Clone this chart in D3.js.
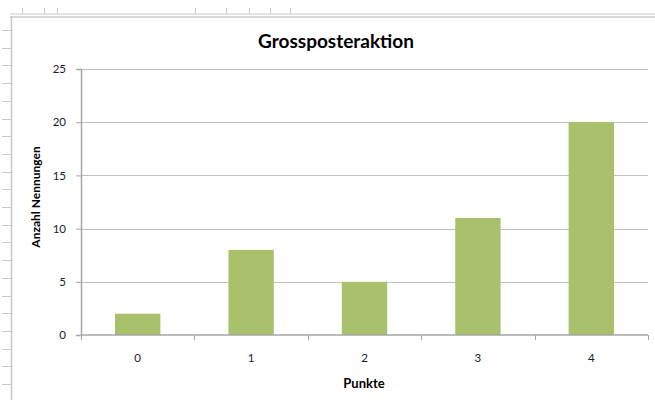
<!DOCTYPE html>
<html>
<head>
<meta charset="utf-8">
<script src="https://cdn.jsdelivr.net/npm/d3@7"></script>
<style>
  body { margin: 0; background: #fff; }
  text { font-family: Lato, "Noto Sans", sans-serif; }
</style>
</head>
<body>
<div id="graphic"></div>
<script>
// chart data
const categories = ["0", "1", "2", "3", "4"];
const counts = [2, 8, 5, 11, 20];
const yTicks = [0, 5, 10, 15, 20, 25];
const chartTitle = "Grossposteraktion";
const xTitle = "Punkte";
const yTitle = "Anzahl Nennungen";

const width = 655, height = 400;
const margin = {top: 69, right: 7, bottom: 65, left: 81};
const plotWidth = width - margin.left - margin.right;
const plotHeight = height - margin.top - margin.bottom;

const svg = d3.select("#graphic")
              .append("svg")
              .attr("width", width)
              .attr("height", height);

// spreadsheet frame behind the chart
const frame = svg.append("g").attr("stroke", "#c8c8c8").attr("fill", "none");
frame.append("line").attr("x1", 10).attr("x2", width).attr("y1", 14).attr("y2", 14);
frame.append("line").attr("x1", 10).attr("x2", width).attr("y1", 17).attr("y2", 17).attr("stroke-width", 1.5);
frame.append("line").attr("x1", 11.5).attr("x2", 11.5).attr("y1", 17).attr("y2", height).attr("stroke-width", 1.5);
d3.range(30, height, 17.7).forEach(function(y) {
    frame.append("line").attr("x1", 2).attr("x2", 11).attr("y1", Math.round(y) + 0.5).attr("y2", Math.round(y) + 0.5);
});
[22, 44, 57, 195, 226, 249, 270, 290].forEach(function(x) {
    frame.append("line").attr("x1", x + 0.5).attr("x2", x + 0.5).attr("y1", 8).attr("y2", 14);
});

const plot = svg.append("g")
                .attr("transform", "translate(" + margin.left + "," + margin.top + ")");

// scales
const x = d3.scaleBand()
            .domain(categories)
            .range([0, plotWidth])
            .paddingInner(0.6)
            .paddingOuter(0.3);
const y = d3.scaleLinear()
            .domain([0, 25])
            .range([plotHeight, 0]);

// gridlines
plot.append("g")
    .selectAll("line")
    .data(yTicks.filter(d => d > 0))
    .join("line")
    .attr("x1", 0)
    .attr("x2", plotWidth)
    .attr("y1", d => Math.round(y(d)) + 0.5)
    .attr("y2", d => Math.round(y(d)) + 0.5)
    .attr("stroke", "#c0c0c0");

// bars
plot.append("g")
    .selectAll("rect")
    .data(counts)
    .join("rect")
    .attr("x", (d, i) => x(categories[i]))
    .attr("y", d => y(d))
    .attr("width", x.bandwidth())
    .attr("height", d => plotHeight - y(d))
    .attr("fill", "#a9c16a");

// y axis
const yAxis = plot.append("g")
                  .call(d3.axisLeft(y).tickValues(yTicks).tickSize(5).tickPadding(10));
yAxis.select(".domain").attr("stroke", "#a6a6a6").attr("stroke-width", 1.5);
yAxis.selectAll(".tick line").attr("stroke", "#a6a6a6");
yAxis.selectAll("text").attr("font-size", 11.5).attr("fill", "#1a1a2e").style("font-family", "Lato, sans-serif");

// x axis, ticks between categories
const xAxis = plot.append("g")
                  .attr("transform", "translate(0," + plotHeight + ")");
xAxis.append("line")
     .attr("x1", 0).attr("x2", plotWidth)
     .attr("y1", 0).attr("y2", 0)
     .attr("stroke", "#a6a6a6").attr("stroke-width", 1.5);
xAxis.selectAll(".sep")
     .data(d3.range(categories.length + 1))
     .join("line")
     .attr("class", "sep")
     .attr("x1", i => Math.round(i * x.step()) + 0.5)
     .attr("x2", i => Math.round(i * x.step()) + 0.5)
     .attr("y1", 0).attr("y2", 5)
     .attr("stroke", "#a6a6a6");
xAxis.selectAll(".lbl")
     .data(categories)
     .join("text")
     .attr("class", "lbl")
     .attr("x", d => x(d) + x.bandwidth() / 2)
     .attr("y", 27)
     .attr("text-anchor", "middle")
     .attr("font-size", 11.5)
     .attr("fill", "#1a1a2e")
     .text(d => d);

// titles
svg.append("text")
   .attr("x", 336)
   .attr("y", 48)
   .attr("text-anchor", "middle")
   .attr("font-size", 19)
   .attr("font-weight", "bold")
   .text(chartTitle);

svg.append("text")
   .attr("x", 364)
   .attr("y", 388)
   .attr("text-anchor", "middle")
   .attr("font-size", 13)
   .attr("font-weight", "bold")
   .text(xTitle);

svg.append("text")
   .attr("transform", "translate(40,197) rotate(-90)")
   .attr("text-anchor", "middle")
   .attr("font-size", 12)
   .attr("font-weight", "bold")
   .text(yTitle);
</script>
</body>
</html>
